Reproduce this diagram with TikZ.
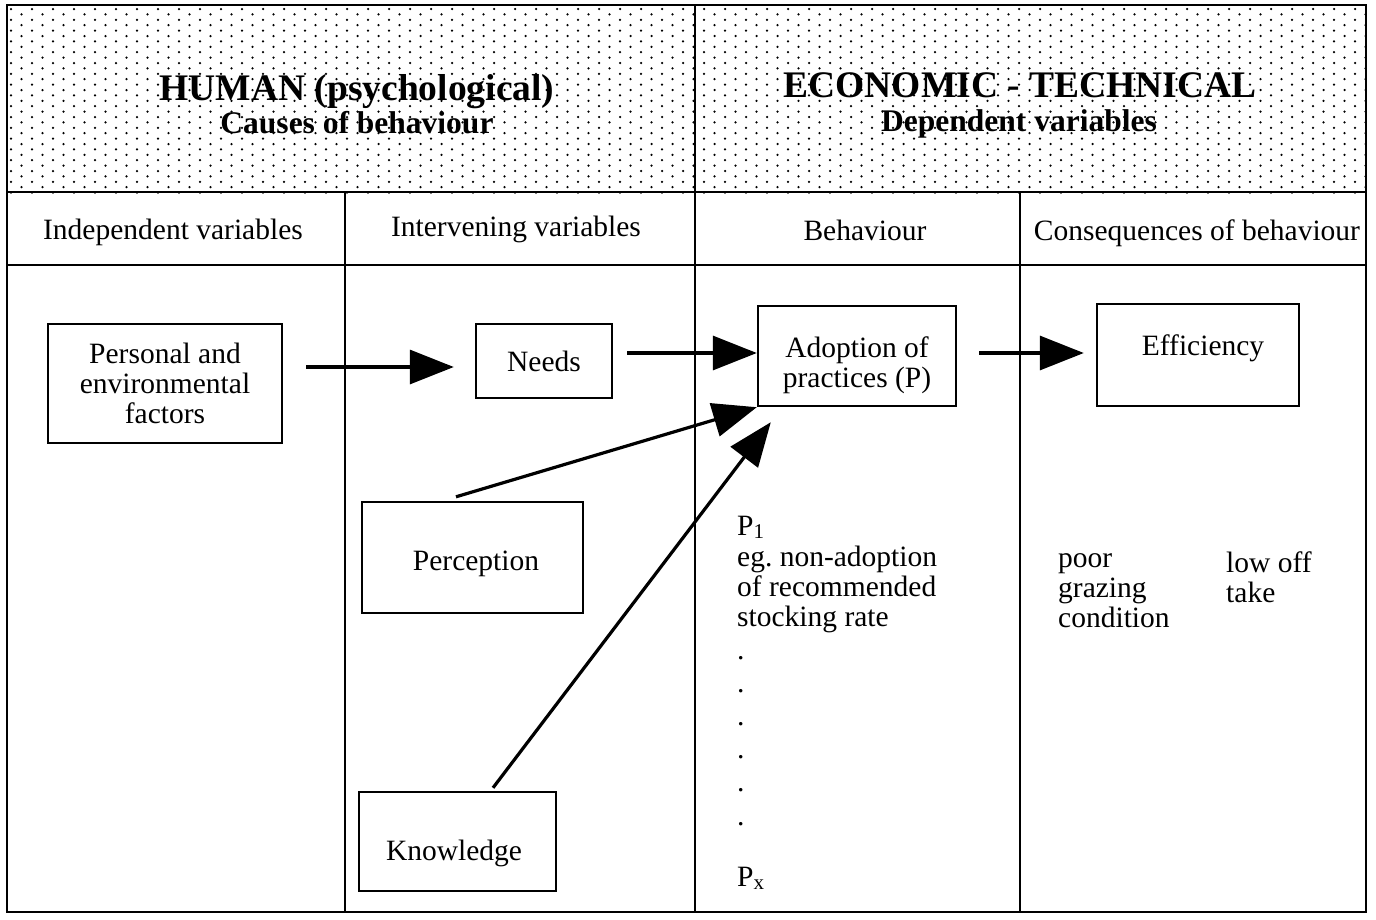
\documentclass[tikz,border=0pt]{standalone}
\usepackage{fontspec}
\setmainfont{Liberation Serif}
\usetikzlibrary{arrows.meta,calc}
\frenchspacing

\newcommand{\subidx}[1]{{\fontsize{21}{21}\selectfont\raisebox{-3pt}{#1}}}

\begin{document}
\begin{tikzpicture}[x=1pt,y=-1pt,
  rule/.style={line width=2.6pt},
  box/.style={draw,line width=2.4pt,inner sep=0pt,align=center},
  txt/.style={font=\fontsize{29.5}{30}\selectfont,inner sep=0pt},
  head/.style={font=\bfseries\fontsize{37.5}{37.5}\selectfont,inner sep=0pt},
  subhead/.style={font=\bfseries\fontsize{31.5}{32}\selectfont,inner sep=0pt},
  flow/.style={line width=3.2pt,-{Triangle[length=44pt,width=34pt]}},
]
\useasboundingbox (0,0) rectangle (1376,919);

% stippled band behind the two main headings
\begin{scope}
  \clip (7,5) rectangle (1366,194);
  \foreach \k in {0,...,34} {
    \pgfmathsetmacro{\yy}{9+5.4*\k}
    \pgfmathsetmacro{\off}{mod(\k,2)*10.5}
    \foreach \i in {0,...,64} {
      \fill[black] (11+21*\i+\off,\yy) circle (1.25pt);
    }
  }
\end{scope}

% table frame and column rules
\draw[rule] (7,5) rectangle (1366,912);
\draw[rule] (7,192) -- (1366,192);
\draw[rule] (7,265) -- (1366,265);
\draw[rule] (695,5) -- (695,912);
\draw[rule] (345,192) -- (345,912);
\draw[rule] (1020,192) -- (1020,912);

% main headings
\node[head,anchor=base] (hh) at (357,100) {HUMAN (psychological)};
\node[subhead,anchor=base] (hs) at (357,133) {Causes of behaviour};
\node[head,anchor=base] (eh) at (1020,97) {ECONOMIC - TECHNICAL};
\node[subhead,anchor=base] (es) at (1019,131) {Dependent variables};

% column headings
\node[txt,anchor=base] (c1) at (173,239) {Independent variables};
\node[txt,anchor=base] (c2) at (516,236) {Intervening variables};
\node[txt,anchor=base] (c3) at (865,240) {Behaviour};
\node[txt,anchor=base] (c4) at (1197,240) {Consequences of behaviour};

% boxes
\node[box,txt,draw,line width=2.4pt,minimum width=234pt,minimum height=119pt] (pers) at (165,383.5)
  {Personal and\\environmental\\factors};
\node[box,txt,draw,line width=2.4pt,minimum width=136pt,minimum height=74pt] (needs) at (544,361) {Needs};
\node[box,minimum width=198pt,minimum height=100pt] (adopt) at (857,356) {};
\node[txt,align=center] (adoptt) at (857,365) {Adoption of\\practices (P)};
\node[box,minimum width=202pt,minimum height=102pt] (eff) at (1198,355) {};
\node[txt,anchor=base] (efft) at (1203,355) {Efficiency};
\node[box,minimum width=221pt,minimum height=111pt] (perc) at (472.5,557.5) {};
\node[txt,anchor=base] (perct) at (476,570) {Perception};
\node[box,minimum width=197pt,minimum height=99pt] (know) at (457.5,841.5) {};
\node[txt,anchor=base] (knowt) at (454,860) {Knowledge};

% connectors
\draw[flow] ($(pers.east)+(23,-16.5)$) -- ($(needs.west)+(-21,6)$);
\draw[flow] ($(needs.east)+(14,-8)$) -- ($(adopt.west)+(0,-3)$);
\draw[flow] ($(adopt.east)+(22,-3)$) -- ($(eff.west)+(-12,-2)$);
\draw[flow] ($(perc.north)+(-16.5,-4)$) -- (adopt.south west);
\draw[flow] ($(know.north)+(35.5,-3)$) -- ($(adopt.south west)+(14,15)$);

% behaviour column notes (base anchor sits on the last line)
\node[txt,anchor=base west,align=left] (p1) at (737,626)
  {P\subidx{1}\\[1pt]eg. non-adoption\\of recommended\\stocking rate};
\foreach \j in {0,...,5} {
  \node[txt,anchor=base west] (dot\j) at (737,659+33.2*\j) {.};
}
\node[txt,anchor=base west] (px) at (737,886) {P\subidx{x}};

% consequences column notes
\node[txt,anchor=base west,align=left] (poor) at (1058,627) {poor\\grazing\\condition};
\node[txt,anchor=base west,align=left] (low) at (1226,602) {low off\\take};
\end{tikzpicture}
\end{document}
